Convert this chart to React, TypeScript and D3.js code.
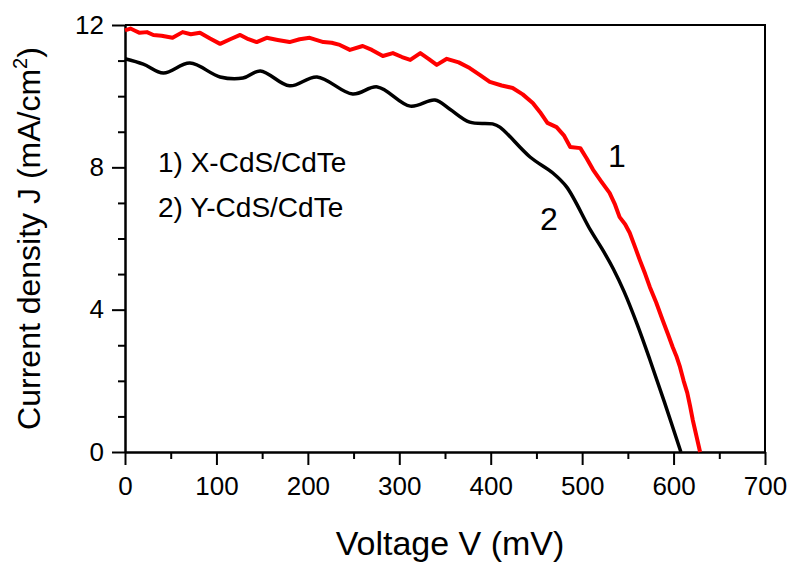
import { useRef, useEffect } from 'react';
import * as d3 from 'd3';

// J-V curves, voltage in mV, current density in mA/cm2
const v1 = [0, 6, 11, 16, 24, 31, 40, 52, 63, 72, 82, 93, 104, 115, 126, 135, 144, 155, 167, 180, 191, 202, 217, 226, 235, 246, 260, 270, 282, 293, 303, 312, 323, 332, 341, 352, 365, 377, 388, 399, 412, 424, 435, 446, 454, 462, 472, 480, 487, 498, 505, 512, 521, 530, 536, 541, 547, 552, 558, 563, 569, 574, 581, 588, 594, 599, 603, 607, 611, 615, 618, 621, 625, 629];
const j1 = [11.85, 11.9, 11.84, 11.78, 11.8, 11.72, 11.7, 11.64, 11.8, 11.74, 11.78, 11.62, 11.47, 11.6, 11.72, 11.6, 11.52, 11.64, 11.58, 11.52, 11.6, 11.64, 11.52, 11.5, 11.44, 11.3, 11.41, 11.3, 11.13, 11.21, 11.1, 11.02, 11.21, 11.05, 10.88, 11.05, 10.95, 10.79, 10.6, 10.4, 10.3, 10.23, 10.05, 9.81, 9.55, 9.25, 9.13, 8.9, 8.57, 8.54, 8.25, 7.93, 7.6, 7.28, 6.95, 6.6, 6.4, 6.16, 5.75, 5.4, 5.0, 4.64, 4.2, 3.71, 3.3, 2.95, 2.7, 2.39, 2.0, 1.66, 1.3, 0.9, 0.45, 0];

const v2 = [0, 20, 42, 71, 104, 129, 148, 180, 210, 249, 276, 312, 339, 355, 377, 402, 410, 443, 468, 483, 509, 522, 534, 546, 560, 574, 590, 608];
const j2 = [11.05, 10.9, 10.65, 10.93, 10.54, 10.51, 10.71, 10.29, 10.54, 10.06, 10.26, 9.72, 9.89, 9.64, 9.27, 9.22, 9.13, 8.29, 7.84, 7.45, 6.24, 5.7, 5.15, 4.5, 3.6, 2.6, 1.4, 0];

const xTicks = [0, 100, 200, 300, 400, 500, 600, 700];
const xMinor = [50, 150, 250, 350, 450, 550, 650];
const yTicks = [0, 4, 8, 12];
const yMinor = [1, 2, 3, 5, 6, 7, 9, 10, 11];
const legendLines = ['1) X-CdS/CdTe', '2) Y-CdS/CdTe'];

export default function App() {
  const svgRef = useRef<SVGSVGElement>(null);

  useEffect(() => {
    const el = svgRef.current;
    if (!el) return;
    d3.select(el).selectAll('*').remove();
    const svg = d3.select(el);
    const font = 'Liberation Sans, Arial, sans-serif';

    const x = d3.scaleLinear().domain([0, 700]).range([125, 765]);
    const y = d3.scaleLinear().domain([0, 12]).range([452, 25]);

    // frame top / right
    svg.append('path')
      .attr('d', `M${x(0)},${y(12)}H${x(700)}V${y(0)}`)
      .attr('fill', 'none').attr('stroke', '#000').attr('stroke-width', 2);

    const styleAxis = (g: d3.Selection<SVGGElement, unknown, null, undefined>) => {
      g.selectAll('line').attr('stroke', '#000').attr('stroke-width', 2);
      g.select('.domain').attr('stroke', '#000').attr('stroke-width', 2);
      g.selectAll('text').attr('font-family', font).attr('font-size', 26).attr('fill', '#000');
    };

    svg.append('g').attr('transform', `translate(0,${y(0)})`)
      .call(d3.axisBottom(x).tickValues(xMinor).tickSize(7).tickFormat(() => '').tickSizeOuter(0))
      .call(styleAxis);
    svg.append('g').attr('transform', `translate(0,${y(0)})`)
      .call(d3.axisBottom(x).tickValues(xTicks).tickSize(13).tickPadding(12).tickSizeOuter(0))
      .call(styleAxis);

    svg.append('g').attr('transform', `translate(${x(0)},0)`)
      .call(d3.axisLeft(y).tickValues(yMinor).tickSize(7).tickFormat(() => '').tickSizeOuter(0))
      .call(styleAxis);
    svg.append('g').attr('transform', `translate(${x(0)},0)`)
      .call(d3.axisLeft(y).tickValues(yTicks).tickSize(13).tickPadding(8).tickSizeOuter(0))
      .call(styleAxis);

    const red = v1.map((v, i) => [x(v), y(j1[i])] as [number, number]);
    const black = v2.map((v, i) => [x(v), y(j2[i])] as [number, number]);

    svg.append('path')
      .attr('d', d3.line().curve(d3.curveCatmullRom.alpha(0.5))(black) ?? '')
      .attr('fill', 'none').attr('stroke', '#000').attr('stroke-width', 3.5)
      .attr('stroke-linejoin', 'round');
    svg.append('path')
      .attr('d', d3.line()(red) ?? '')
      .attr('fill', 'none').attr('stroke', '#ff0000').attr('stroke-width', 4)
      .attr('stroke-linejoin', 'round');

    legendLines.forEach((t, i) => {
      svg.append('text').attr('x', 158).attr('y', 172 + i * 45)
        .attr('font-family', font).attr('font-size', 28).attr('fill', '#000').text(t);
    });
    svg.append('text').attr('x', 617).attr('y', 167).attr('text-anchor', 'middle')
      .attr('font-family', font).attr('font-size', 32).attr('fill', '#000').text('1');
    svg.append('text').attr('x', 549).attr('y', 230).attr('text-anchor', 'middle')
      .attr('font-family', font).attr('font-size', 32).attr('fill', '#000').text('2');

    svg.append('text').attr('x', 450).attr('y', 555).attr('text-anchor', 'middle')
      .attr('font-family', font).attr('font-size', 34).attr('fill', '#000').text('Voltage V (mV)');

    const yt = svg.append('text')
      .attr('transform', `translate(40,${y(6)}) rotate(-90)`)
      .attr('text-anchor', 'middle')
      .attr('font-family', font).attr('font-size', 32).attr('fill', '#000');
    yt.append('tspan').text('Current density J (mA/cm');
    yt.append('tspan').attr('font-size', 20).attr('dy', -13).text('2');
    yt.append('tspan').attr('dy', 13).text(')');
  }, []);

  return (
    <svg ref={svgRef} width={791} height={562}
      style={{ position: 'absolute', left: 0, top: 0, background: '#fff' }} />
  );
}
